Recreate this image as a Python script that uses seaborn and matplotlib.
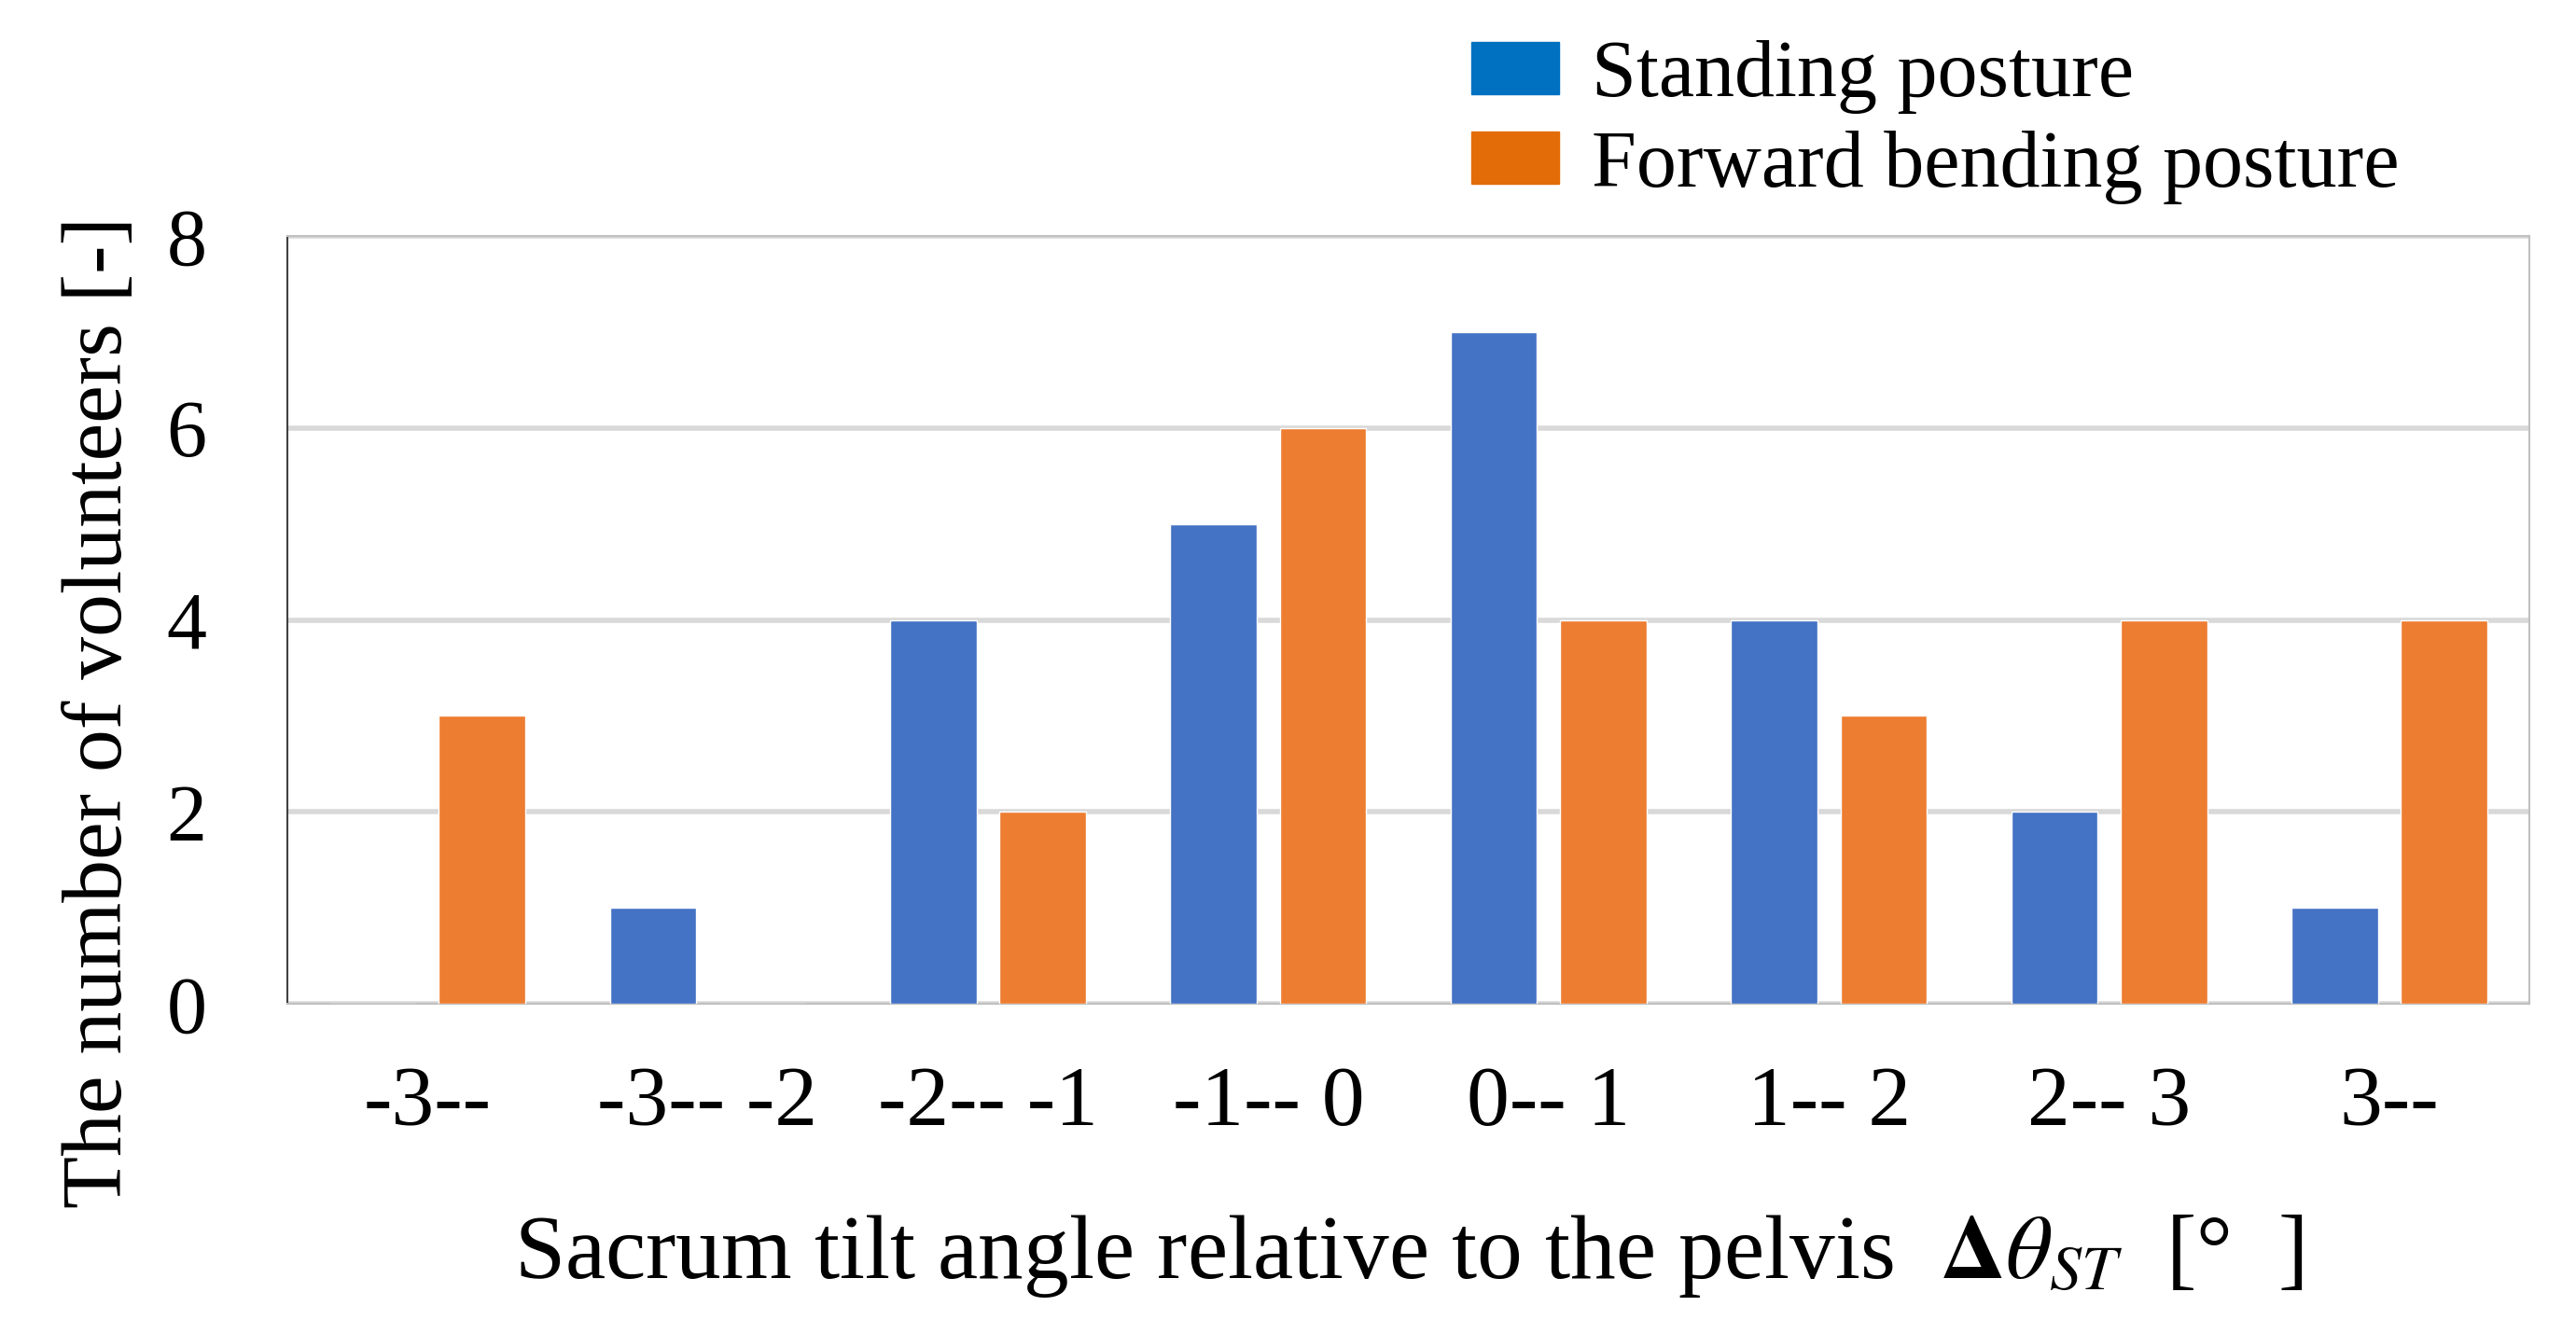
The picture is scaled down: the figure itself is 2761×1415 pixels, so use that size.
import matplotlib
matplotlib.use("Agg")
import matplotlib.pyplot as plt
import matplotlib.patches as mpatches
import seaborn as sns
import pandas as pd

categories = ["-3--", "-3-- -2", "-2-- -1", "-1-- 0", "0-- 1", "1-- 2", "2-- 3", "3--"]
standing = [0, 1, 4, 5, 7, 4, 2, 1]
forward = [3, 0, 2, 6, 4, 3, 4, 4]
series_names = ["Standing posture", "Forward bending posture"]
bar_colors = ["#4472C4", "#ED7D31"]
legend_colors = ["#0070C0", "#E36C09"]
yticks = [0, 2, 4, 6, 8]

df = pd.DataFrame({
    "category": categories * 2,
    "value": standing + forward,
    "series": [series_names[0]] * len(categories) + [series_names[1]] * len(categories),
})

sns.set_theme(style="white")
plt.rcParams["font.family"] = ["Liberation Serif", "DejaVu Serif"]
plt.rcParams["mathtext.fontset"] = "stix"
plt.rcParams["text.color"] = "black"
plt.rcParams["axes.labelcolor"] = "black"
plt.rcParams["xtick.color"] = "black"
plt.rcParams["ytick.color"] = "black"

fig = plt.figure(figsize=(27.61, 14.15), dpi=100)
ax = fig.add_axes([0.1115, 0.2396, 0.8705, 0.5814])

sns.barplot(data=df, x="category", y="value", hue="series", order=categories,
            hue_order=series_names, palette=bar_colors, width=0.78, gap=0.21,
            ax=ax, legend=False, zorder=3, saturation=1)

ax.set_ylim(0, 8)
ax.set_xlim(-0.5, len(categories) - 0.5)
ax.set_yticks(yticks)
ax.set_yticklabels([str(v) for v in yticks], fontsize=62)
ax.set_xticks(range(len(categories)))
ax.set_xticklabels(categories, fontsize=66)
ax.tick_params(axis="x", length=0, pad=48)
ax.tick_params(axis="y", length=0, pad=62)
ax.yaxis.grid(True, color="#D9D9D9", linewidth=4, zorder=0)
ax.set_axisbelow(True)
for side in ["top", "right", "bottom"]:
    ax.spines[side].set_color("#BFBFBF")
    ax.spines[side].set_linewidth(1.5)
ax.spines["left"].set_color("#404040")
ax.spines["left"].set_linewidth(1.5)

ax.set_xlabel(r"Sacrum tilt angle relative to the pelvis  $\mathbf{\Delta}\theta_{ST}$  [°  ]",
              fontsize=70, labelpad=54)
ax.set_ylabel("The number of volunteers [-]", fontsize=66)
ax.yaxis.set_label_coords(-0.066, 0.38)

handles = [mpatches.Patch(color=c, label=n) for c, n in zip(legend_colors, series_names)]
fig.legend(handles=handles, loc="upper left", bbox_to_anchor=(0.571, 0.970),
           frameon=False, fontsize=62, handlelength=1.1, handleheight=0.62,
           handletextpad=0.4, labelspacing=0.2, borderpad=0, borderaxespad=0)

fig.savefig("out.png", dpi=100)
